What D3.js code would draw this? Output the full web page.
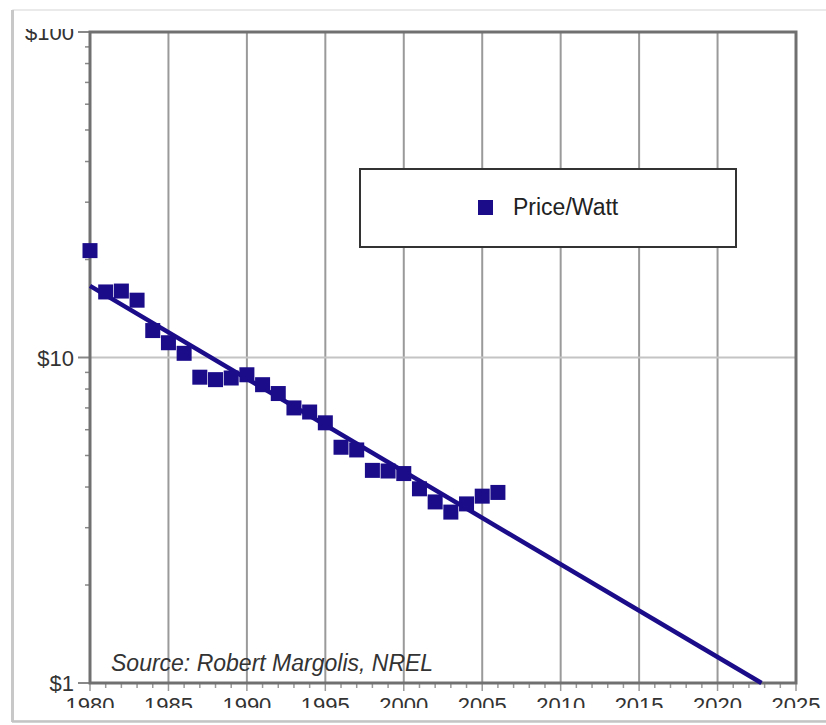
<!DOCTYPE html>
<html>
<head>
<meta charset="utf-8">
<script src="https://d3js.org/d3.v7.min.js"></script>
<style>
  body { margin: 0; background: #fff; }
  text { font-family: "Liberation Sans", Arial, sans-serif; }
</style>
</head>
<body>
<div id="chart"></div>
<script>
// data
var years = [1980, 1981, 1982, 1983, 1984, 1985, 1986, 1987, 1988, 1989,
             1990, 1991, 1992, 1993, 1994, 1995, 1996, 1997, 1998, 1999,
             2000, 2001, 2002, 2003, 2004, 2005, 2006];
var pricePerWatt = [21.3, 15.9, 16.0, 15.0, 12.1, 11.1, 10.3, 8.7, 8.55, 8.65,
                    8.85, 8.25, 7.75, 7.0, 6.8, 6.3, 5.3, 5.2, 4.5, 4.48,
                    4.4, 3.95, 3.6, 3.35, 3.55, 3.75, 3.85];
// trend line end points
var trendYears = [1980, 2022.8];
var trendValues = [16.6, 1];
var xTicks = [1980, 1985, 1990, 1995, 2000, 2005, 2010, 2015, 2020, 2025];
var yTicks = [1, 10, 100];
var yTickLabels = ["$1", "$10", "$100"];
var legendLabel = "Price/Watt";
var sourceText = "Source: Robert Margolis, NREL";

var W = 826, H = 725;
var margin = { top: 32, right: 30, bottom: 42, left: 90 },
  width = 796 - margin.left,
  height = 683 - margin.top;
var navy = "#1b0c8a";

var svg = d3.select("#chart").append("svg")
  .attr("width", W)
  .attr("height", H);

// card frame around the picture
svg.append("rect")
  .attr("x", 13).attr("y", 10)
  .attr("width", W + 10).attr("height", 711)
  .attr("fill", "#fff")
  .attr("stroke", "#e4e4e4")
  .attr("stroke-width", 1.5);
svg.append("line")
  .attr("x1", 12.5).attr("x2", 12.5).attr("y1", 10).attr("y2", 722)
  .attr("stroke", "#c8c8c8").attr("stroke-width", 3);
svg.append("line")
  .attr("x1", 12).attr("x2", W).attr("y1", 721.5).attr("y2", 721.5)
  .attr("stroke", "#c4c4c4").attr("stroke-width", 2.5);

// the chart image was cropped top and bottom
svg.append("clipPath").attr("id", "crop")
  .append("rect").attr("x", 14).attr("y", 29).attr("width", W).attr("height", 679);

var g = svg.append("g")
  .attr("clip-path", "url(#crop)")
  .append("g")
  .attr("transform", "translate(" + margin.left + "," + margin.top + ")");

var x = d3.scaleLinear().domain([1980, 2025]).range([0, width]);
var y = d3.scaleLog().domain([1, 100]).range([height, 0]);

// vertical grid
g.selectAll(".vgrid")
  .data(xTicks.slice(1, -1))
  .enter().append("line")
  .attr("x1", function (d) { return x(d); })
  .attr("x2", function (d) { return x(d); })
  .attr("y1", 0).attr("y2", height)
  .attr("stroke", "#9a9a9a").attr("stroke-width", 2);

// horizontal grid
g.selectAll(".hgrid")
  .data(yTicks.slice(1, -1))
  .enter().append("line")
  .attr("x1", 0).attr("x2", width)
  .attr("y1", function (d) { return y(d); })
  .attr("y2", function (d) { return y(d); })
  .attr("stroke", "#c4c4c4").attr("stroke-width", 2);

// minor y ticks (log 2..9)
var yMinor = [];
[1, 10].forEach(function (dec) {
  for (var k = 2; k <= 9; k++) yMinor.push(dec * k);
});
g.selectAll(".yminor")
  .data(yMinor)
  .enter().append("line")
  .attr("x1", -5).attr("x2", 0)
  .attr("y1", function (d) { return y(d); })
  .attr("y2", function (d) { return y(d); })
  .attr("stroke", "#888").attr("stroke-width", 1.5);

// major y ticks and labels
g.selectAll(".ymajor")
  .data(yTicks)
  .enter().append("line")
  .attr("x1", -12).attr("x2", 0)
  .attr("y1", function (d) { return y(d); })
  .attr("y2", function (d) { return y(d); })
  .attr("stroke", "#888").attr("stroke-width", 2);
g.selectAll(".ylabel")
  .data(yTicks)
  .enter().append("text")
  .attr("x", -16)
  .attr("y", function (d) { return y(d) + 8; })
  .attr("text-anchor", "end")
  .attr("fill", "#333")
  .style("font-size", "22px")
  .text(function (d, i) { return yTickLabels[i]; });

// x ticks: minor every year, major every 5
g.selectAll(".xminor")
  .data(d3.range(1980, 2026))
  .enter().append("line")
  .attr("x1", function (d) { return x(d); })
  .attr("x2", function (d) { return x(d); })
  .attr("y1", height)
  .attr("y2", function (d) { return height + (d % 5 === 0 ? 8 : 5); })
  .attr("stroke", "#999").attr("stroke-width", 1.5);
g.selectAll(".xlabel")
  .data(xTicks)
  .enter().append("text")
  .attr("x", function (d) { return x(d); })
  .attr("y", height + 30)
  .attr("text-anchor", "middle")
  .attr("fill", "#333")
  .style("font-size", "22px")
  .text(function (d) { return d; });

// plot frame
g.append("rect")
  .attr("width", width).attr("height", height)
  .attr("fill", "none")
  .attr("stroke", "#707070").attr("stroke-width", 3);

// trend line
var trend = trendYears.map(function (d, i) { return [d, trendValues[i]]; });
g.append("path")
  .datum(trend)
  .attr("fill", "none")
  .attr("stroke", navy)
  .attr("stroke-width", 4.5)
  .attr("d", d3.line()
    .x(function (d) { return x(d[0]); })
    .y(function (d) { return y(d[1]); }));

// price points
var sq = 15;
g.selectAll(".pt")
  .data(years)
  .enter().append("rect")
  .attr("x", function (d) { return x(d) - sq / 2; })
  .attr("y", function (d, i) { return y(pricePerWatt[i]) - sq / 2; })
  .attr("width", sq).attr("height", sq)
  .attr("fill", navy);

// legend
var leg = svg.append("g").attr("transform", "translate(360,169)");
leg.append("rect")
  .attr("width", 376).attr("height", 78)
  .attr("fill", "#fff")
  .attr("stroke", "#333").attr("stroke-width", 2);
leg.append("rect")
  .attr("x", 118).attr("y", 31)
  .attr("width", 15).attr("height", 15)
  .attr("fill", navy);
leg.append("text")
  .attr("x", 153).attr("y", 46)
  .attr("fill", "#222")
  .style("font-size", "23px")
  .text(legendLabel);

// source note
svg.append("text")
  .attr("x", 111).attr("y", 671)
  .attr("fill", "#333")
  .style("font-size", "23px")
  .style("font-style", "italic")
  .text(sourceText);
</script>
</body>
</html>
